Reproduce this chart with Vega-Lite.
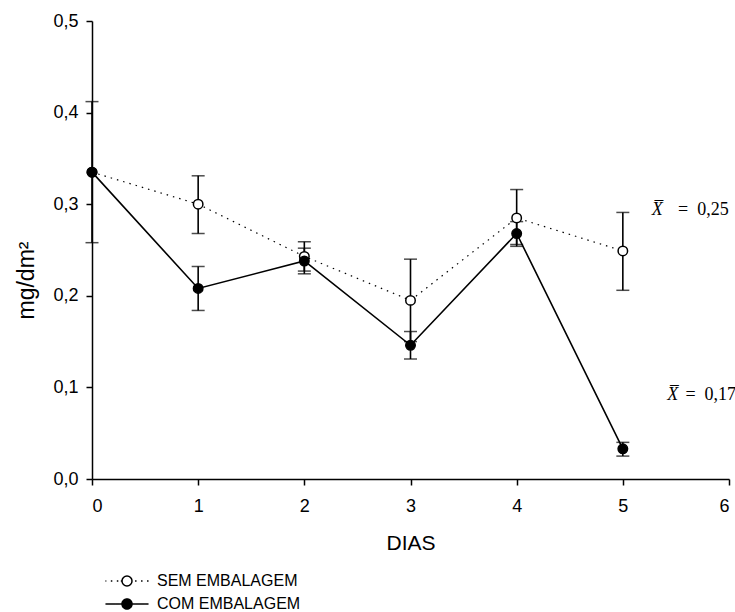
{
  "$schema": "https://vega.github.io/schema/vega-lite/v6.json",
  "autosize": {"type": "none"},
  "padding": {"left": 92, "top": 21, "right": 6, "bottom": 133},
  "width": 637,
  "height": 458,
  "background": "white",
  "config": {
    "view": {"stroke": null},
    "axis": {
      "grid": false,
      "domainColor": "black",
      "domainWidth": 1.5,
      "tickColor": "black",
      "tickWidth": 1.5,
      "tickSize": 6,
      "labelColor": "black",
      "labelFont": "Liberation Sans",
      "labelFontSize": 18,
      "titleFont": "Liberation Sans",
      "titleFontWeight": "normal",
      "titleColor": "black",
      "titleFontSize": 21
    },
    "legend": {
      "title": null,
      "orient": "none",
      "legendX": 27,
      "legendY": 552,
      "symbolType": "M4,0H0.93a0.93,0.93 0 1,0 -1.86,0a0.93,0.93 0 1,0 1.86,0a0.93,0.93 0 1,0 -1.86,0H-4",
      "symbolSize": 116,
      "symbolStrokeColor": "black",
      "symbolStrokeWidth": 1.5,
      "labelFont": "Liberation Sans",
      "labelFontSize": 16,
      "labelColor": "black",
      "labelOffset": 22,
      "rowPadding": 5
    }
  },
  "datasets": {
    "pts": [
      {"series": "SEM EMBALAGEM", "dia": 0, "mean": 0.335, "lo": null, "hi": null},
      {"series": "SEM EMBALAGEM", "dia": 1, "mean": 0.300, "lo": 0.268, "hi": 0.331},
      {"series": "SEM EMBALAGEM", "dia": 2, "mean": 0.243, "lo": 0.227, "hi": 0.259},
      {"series": "SEM EMBALAGEM", "dia": 3, "mean": 0.195, "lo": 0.150, "hi": 0.240},
      {"series": "SEM EMBALAGEM", "dia": 4, "mean": 0.285, "lo": 0.254, "hi": 0.316},
      {"series": "SEM EMBALAGEM", "dia": 5, "mean": 0.249, "lo": 0.206, "hi": 0.291},
      {"series": "COM EMBALAGEM", "dia": 0, "mean": 0.335, "lo": 0.258, "hi": 0.412},
      {"series": "COM EMBALAGEM", "dia": 1, "mean": 0.208, "lo": 0.184, "hi": 0.232},
      {"series": "COM EMBALAGEM", "dia": 2, "mean": 0.238, "lo": 0.224, "hi": 0.252},
      {"series": "COM EMBALAGEM", "dia": 3, "mean": 0.146, "lo": 0.131, "hi": 0.161},
      {"series": "COM EMBALAGEM", "dia": 4, "mean": 0.268, "lo": 0.256, "hi": 0.281},
      {"series": "COM EMBALAGEM", "dia": 5, "mean": 0.033, "lo": 0.025, "hi": 0.040}
    ],
    "notes": [
      {"xs": 5.273, "xe": 5.52, "y": 0.2882, "t": "=\u20020,25"},
      {"xs": 5.418, "xe": 5.59, "y": 0.0862, "t": "=\u20020,17"}
    ]
  },
  "layer": [
    {
      "data": {"name": "pts"},
      "transform": [{"filter": "datum.series === 'SEM EMBALAGEM'"}],
      "mark": {"type": "line", "color": "black", "strokeDash": [1.5, 5], "strokeWidth": 1.2},
      "encoding": {
        "x": {
          "field": "dia", "type": "quantitative", "title": "DIAS",
          "scale": {"domain": [0, 6], "nice": false, "zero": false},
          "axis": {"values": [0, 1, 2, 3, 4, 5, 6], "format": "d", "labelPadding": 12, "titleY": 64, "titleBaseline": "middle"}
        },
        "y": {
          "field": "mean", "type": "quantitative", "title": "mg/dm²",
          "scale": {"domain": [0, 0.5], "nice": false},
          "axis": {"values": [0, 0.1, 0.2, 0.3, 0.4, 0.5], "labelExpr": "replace(format(datum.value, '.1f'), '.', ',')", "labelPadding": 8, "titleFontSize": 23, "titleAngle": -90, "titleX": -66, "titleY": 259, "titleAlign": "center", "titleBaseline": "middle"}
        }
      }
    },
    {
      "data": {"name": "pts"},
      "transform": [{"filter": "datum.series === 'COM EMBALAGEM'"}],
      "mark": {"type": "line", "color": "black", "strokeWidth": 1.6},
      "encoding": {
        "x": {"field": "dia", "type": "quantitative", "title": "DIAS"},
        "y": {"field": "mean", "type": "quantitative", "title": "mg/dm²"}
      }
    },
    {
      "data": {"name": "pts"},
      "transform": [{"filter": "false"}],
      "mark": {"type": "line", "color": "black", "strokeWidth": 1.5},
      "encoding": {
        "x": {"field": "dia", "type": "quantitative", "title": "DIAS"},
        "y": {"field": "mean", "type": "quantitative", "title": "mg/dm²"},
        "strokeDash": {
          "field": "series", "type": "nominal",
          "scale": {"domain": ["SEM EMBALAGEM", "COM EMBALAGEM"], "range": [[1.5, 4.5, 1.5, 4.5, 1.5, 3, 47.2, 2.5, 1.5, 4.5, 1.5, 4.5, 1.5, 100], [1, 0]]}
        }
      }
    },
    {
      "data": {"name": "pts"},
      "transform": [{"filter": "datum.lo != null"}],
      "mark": {"type": "errorbar", "ticks": {"size": 13, "thickness": 1.5, "color": "black"}, "rule": {"strokeWidth": 1.6, "color": "black"}},
      "encoding": {
        "x": {"field": "dia", "type": "quantitative", "title": "DIAS"},
        "y": {"field": "lo", "type": "quantitative", "title": "mg/dm²"},
        "y2": {"field": "hi"}
      }
    },
    {
      "data": {"name": "pts"},
      "mark": {"type": "point", "shape": "circle", "filled": true, "stroke": "black", "strokeWidth": 1.5, "size": 90, "opacity": 1},
      "encoding": {
        "x": {"field": "dia", "type": "quantitative", "title": "DIAS"},
        "y": {"field": "mean", "type": "quantitative", "title": "mg/dm²"},
        "fill": {
          "field": "series", "type": "nominal",
          "scale": {"domain": ["SEM EMBALAGEM", "COM EMBALAGEM"], "range": ["white", "black"]}
        }
      }
    },
    {
      "data": {"name": "notes"},
      "mark": {"type": "text", "font": "Liberation Serif", "fontSize": 18, "align": "left", "baseline": "alphabetic", "color": "black", "fontStyle": "italic"},
      "encoding": {
        "x": {"field": "xs", "type": "quantitative"},
        "y": {"field": "y", "type": "quantitative"},
        "text": {"value": "X̅"}
      }
    },
    {
      "data": {"name": "notes"},
      "mark": {"type": "text", "font": "Liberation Serif", "fontSize": 18, "align": "left", "baseline": "alphabetic", "color": "black"},
      "encoding": {
        "x": {"field": "xe", "type": "quantitative"},
        "y": {"field": "y", "type": "quantitative"},
        "text": {"field": "t"}
      }
    }
  ]
}
